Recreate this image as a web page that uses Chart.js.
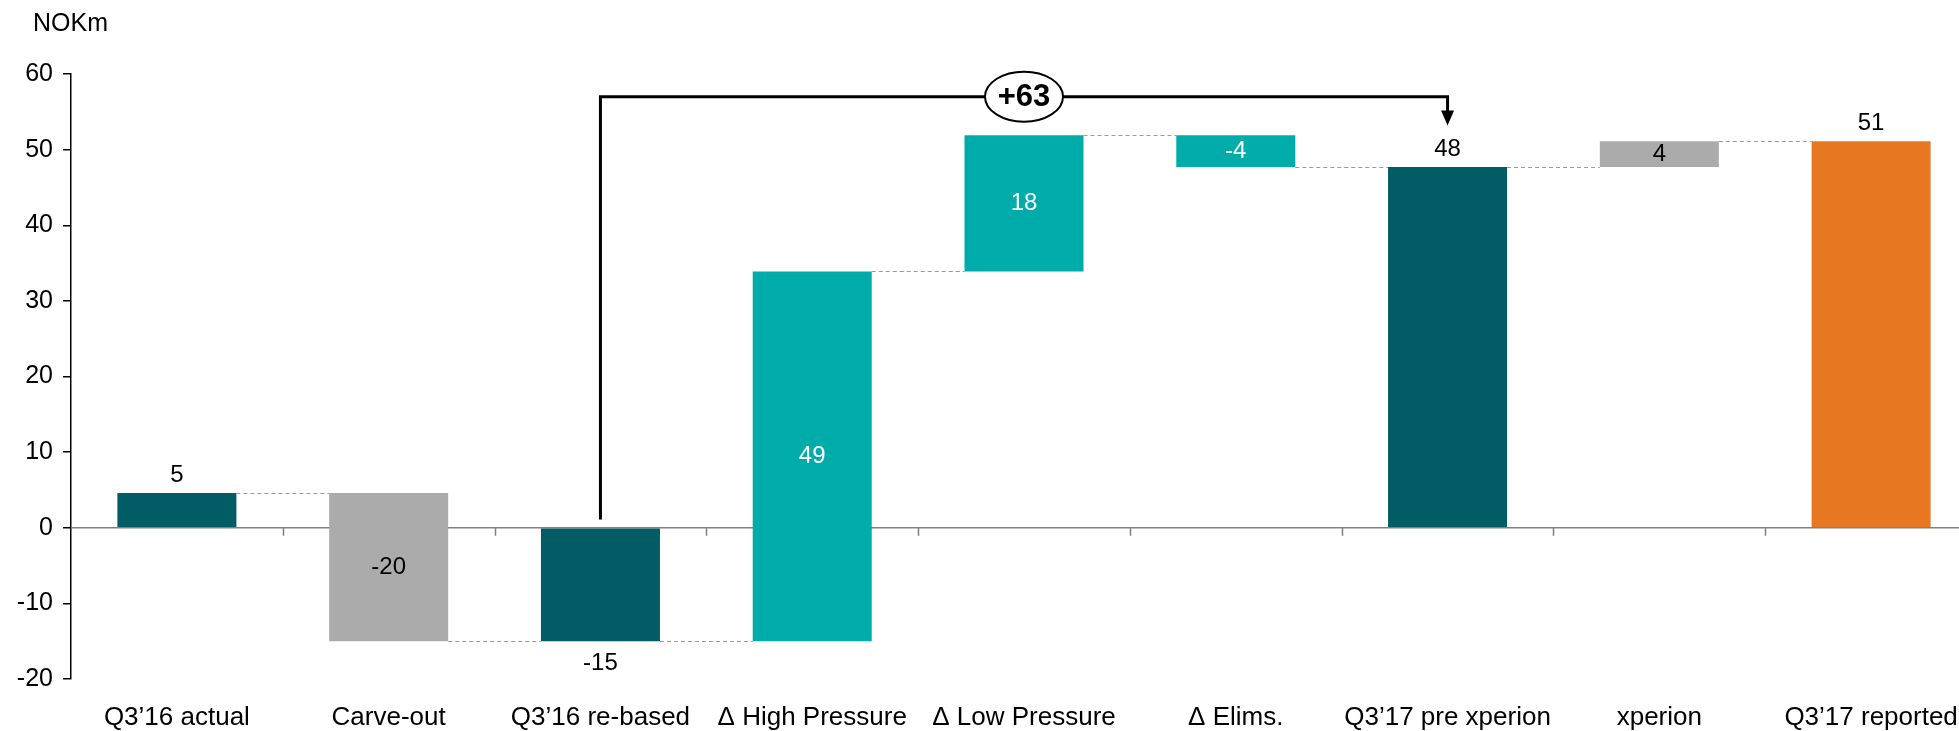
<!DOCTYPE html>
<html>
<head>
<meta charset="utf-8">
<script src="https://cdn.jsdelivr.net/npm/chart.js@4.4.1/dist/chart.umd.min.js"></script>
<style>
  html, body { margin: 0; padding: 0; background: #fff; overflow: hidden; }
  #wrap { width: 1977px; height: 731px; position: relative; }
</style>
</head>
<body>
<div id="wrap"><canvas id="grafico"></canvas></div>
<script>
// --- DADOS ---
const categorias = ["Q3\u201916 actual", "Carve-out", "Q3\u201916 re-based", "\u0394 High Pressure", "\u0394 Low Pressure", "\u0394 Elims.", "Q3\u201917 pre xperion", "xperion", "Q3\u201917 reported"];
const barraDe = [0, 4.6, 0, -15, 33.9, 51.9, 0, 47.7, 0];
const barraAte = [4.6, -15, -15, 33.9, 51.9, 47.7, 47.7, 51.1, 51.1];
const rotulos = ["5", "-20", "-15", "49", "18", "-4", "48", "4", "51"];
const posRotulo = ["cima", "meio", "baixo", "meio", "meio", "meio", "cima", "meio", "cima"];
const corRotulo = ["#000", "#000", "#000", "#fff", "#fff", "#fff", "#000", "#000", "#000"];
const coresBarras = ["#025C66", "#ABABAB", "#025C66", "#00ACA9", "#00ACA9", "#00ACA9", "#025C66", "#ABABAB", "#E87722"];
const ticksY = [-20, -10, 0, 10, 20, 30, 40, 50, 60];

// seta "+63"
const setaDe = 2, setaAte = 6;
const setaInicio = 1.1, setaNivel = 57, setaPonta = 53.2;
const setaTexto = "+63";

const FONTE = "'Liberation Sans', Arial, sans-serif";

const extras = {
    id: 'extras',
    beforeDatasetsDraw(chart) {
        const { ctx, chartArea, scales: { x, y } } = chart;
        const y0 = y.getPixelForValue(0);
        const larg = chartArea.width / categorias.length;
        ctx.save();
        ctx.strokeStyle = '#808080';
        ctx.lineWidth = 1.5;
        ctx.beginPath();
        ctx.moveTo(chartArea.left, y0);
        ctx.lineTo(chartArea.right, y0);
        for (let i = 1; i < categorias.length; i++) {
            const bx = Math.round(x.getPixelForValue(i) - larg / 2) + 0.5;
            ctx.moveTo(bx, y0);
            ctx.lineTo(bx, y0 + 8);
        }
        ctx.stroke();
        ctx.restore();
    },
    afterDatasetsDraw(chart) {
        const { ctx, scales: { x, y } } = chart;
        const meta = chart.getDatasetMeta(0);
        ctx.save();

        // conectores tracejados
        ctx.strokeStyle = '#9a9a9a';
        ctx.lineWidth = 1;
        ctx.setLineDash([4, 3]);
        for (let i = 0; i < categorias.length - 1; i++) {
            const a = meta.data[i], b = meta.data[i + 1];
            const ny = Math.round(y.getPixelForValue(barraAte[i])) + 0.5;
            ctx.beginPath();
            ctx.moveTo(a.x + a.width / 2, ny);
            ctx.lineTo(b.x - b.width / 2, ny);
            ctx.stroke();
        }
        ctx.setLineDash([]);

        // rotulos
        ctx.font = '24px ' + FONTE;
        ctx.textAlign = 'center';
        ctx.textBaseline = 'middle';
        meta.data.forEach((bar, i) => {
            const topo = y.getPixelForValue(Math.max(barraDe[i], barraAte[i]));
            const base = y.getPixelForValue(Math.min(barraDe[i], barraAte[i]));
            let ly = (topo + base) / 2;
            if (posRotulo[i] === 'cima') ly = topo - 18;
            if (posRotulo[i] === 'baixo') ly = base + 22;
            ctx.fillStyle = corRotulo[i];
            ctx.fillText(rotulos[i], bar.x, ly);
        });

        // seta
        const xa = x.getPixelForValue(setaDe);
        const xb = x.getPixelForValue(setaAte);
        const yn = y.getPixelForValue(setaNivel);
        const yp = y.getPixelForValue(setaPonta);
        ctx.strokeStyle = '#000';
        ctx.lineWidth = 3;
        ctx.beginPath();
        ctx.moveTo(xa, y.getPixelForValue(setaInicio));
        ctx.lineTo(xa, yn);
        ctx.lineTo(xb, yn);
        ctx.lineTo(xb, yp - 12);
        ctx.stroke();
        ctx.fillStyle = '#000';
        ctx.beginPath();
        ctx.moveTo(xb - 6.5, yp - 15);
        ctx.lineTo(xb + 6.5, yp - 15);
        ctx.lineTo(xb, yp);
        ctx.closePath();
        ctx.fill();

        const cx = (xa + xb) / 2;
        ctx.fillStyle = '#fff';
        ctx.lineWidth = 2;
        ctx.beginPath();
        ctx.ellipse(cx, yn, 39, 25, 0, 0, Math.PI * 2);
        ctx.fill();
        ctx.stroke();
        ctx.fillStyle = '#000';
        ctx.font = 'bold 31px ' + FONTE;
        ctx.fillText(setaTexto, cx, yn + 1);

        // unidade
        ctx.font = '25px ' + FONTE;
        ctx.textAlign = 'left';
        ctx.fillText('NOKm', 33, 24);
        ctx.restore();
    }
};

const ctx = document.getElementById('grafico').getContext('2d');
const meuGrafico = new Chart(ctx, {
    type: 'bar',
    data: {
        labels: categorias,
        datasets: [{
            data: barraDe.map((v, i) => [v, barraAte[i]]),
            backgroundColor: coresBarras,
            borderWidth: 0,
            categoryPercentage: 1,
            barPercentage: 0.562
        }]
    },
    options: {
        responsive: true,
        maintainAspectRatio: false,
        animation: false,
        layout: { padding: { top: 74, left: 0, right: 0, bottom: 0 } },
        plugins: { legend: { display: false }, tooltip: { enabled: false } },
        scales: {
            x: {
                grid: { display: false },
                border: { display: false },
                ticks: { color: '#000', font: { family: FONTE, size: 26 }, padding: 15, maxRotation: 0, autoSkip: false },
                afterFit(s) { s.height = 52; }
            },
            y: {
                min: -20, max: 60,
                afterBuildTicks(s) { s.ticks = ticksY.map(v => ({ value: v })); },
                grid: { drawOnChartArea: false, tickLength: 8, color: '#000', lineWidth: 1.5 },
                border: { color: '#000', width: 1.5 },
                ticks: { color: '#000', font: { family: FONTE, size: 25 }, padding: 10 },
                afterFit(s) { s.width = 71; }
            }
        }
    },
    plugins: [extras]
});
</script>
</body>
</html>
